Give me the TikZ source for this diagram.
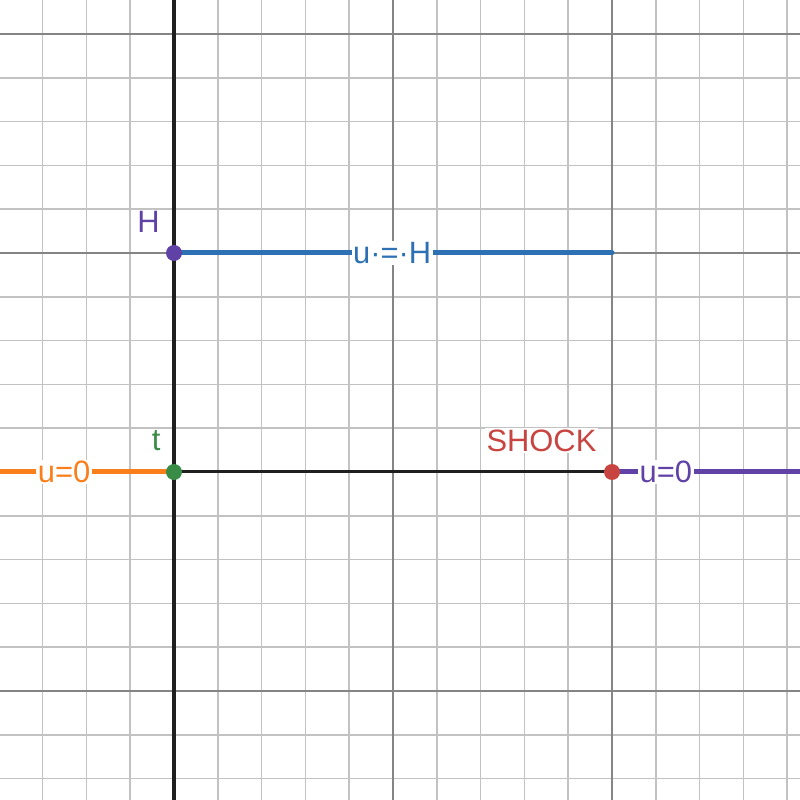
\documentclass[tikz,border=0pt]{standalone}
\usepackage{fontspec}
\setmainfont{Liberation Sans}
\definecolor{dred}{HTML}{C74440}
\definecolor{dblue}{HTML}{2D70B3}
\definecolor{dgreen}{HTML}{388C46}
\definecolor{dpurple}{HTML}{6042A6}
\definecolor{dorange}{HTML}{FA7E19}
\begin{document}
\begin{tikzpicture}[x=43.8bp,y=43.8bp,
  minorline/.style={draw=black!24, line width=1.5bp},
  majorline/.style={draw=black!48, line width=1.7bp},
  axisline/.style={draw=black!88, line width=3bp},
  curveline/.style={line width=5bp, line cap=round},
  dot/.style={circle, fill=#1, inner sep=0pt, minimum size=16bp},
  lab/.style={font=\fontsize{31}{34}\selectfont, text=#1, inner sep=1.5bp, fill=white}
]
\useasboundingbox (-3.9726,-7.4886) rectangle (14.2922,10.7763);
\fill[white] (-3.9726,-7.4886) rectangle (14.2922,10.7763);
% grid
\foreach \i in {-3,...,14} {\draw[minorline] (\i,-7.4886) -- (\i,10.7763);}
\foreach \j in {-7,...,10} {\draw[minorline] (-3.9726,\j) -- (14.2922,\j);}
\foreach \i in {5,10} {\draw[majorline] (\i,-7.4886) -- (\i,10.7763);}
\foreach \j in {-5,5,10} {\draw[majorline] (-3.9726,\j) -- (14.2922,\j);}
% axes
\draw[axisline] (0,-7.4886) -- (0,10.7763);
\draw[axisline] (-3.9726,0) -- (14.2922,0);
% coordinates
\coordinate (L) at (-3.9726,0);
\coordinate (R) at (14.2922,0);
\coordinate (E) at (10,5);
\coordinate (Hp) at (0,5);
\coordinate (Tp) at (0,0);
\coordinate (Sp) at (10,0);
% curves
\draw[curveline, dorange, line cap=butt] (L) -- (Tp);
\draw[curveline, dblue] (Hp) -- (E);
\draw[curveline, dpurple, line cap=butt] (Sp) -- (R);
% curve labels
\node[lab=dorange] (l1) at (-2.51,0) {u=0};
\node[lab=dblue] (l2) at (4.98,5) {u·=·H};
\node[lab=dpurple] (l3) at (11.23,0) {u=0};
% points
\node[dot=dpurple] (H) at (Hp) {};
\node[dot=dgreen] (T) at (Tp) {};
\node[dot=dred] (S) at (Sp) {};
% point labels
\node[lab=dpurple, anchor=base] (hl) at (-0.58,5.457) {H};
\node[lab=dgreen, anchor=base] (tl) at (-0.41,0.502) {t};
\node[lab=dred, anchor=base] (sl) at (8.39,0.479) {SHOCK};
\end{tikzpicture}
\end{document}
